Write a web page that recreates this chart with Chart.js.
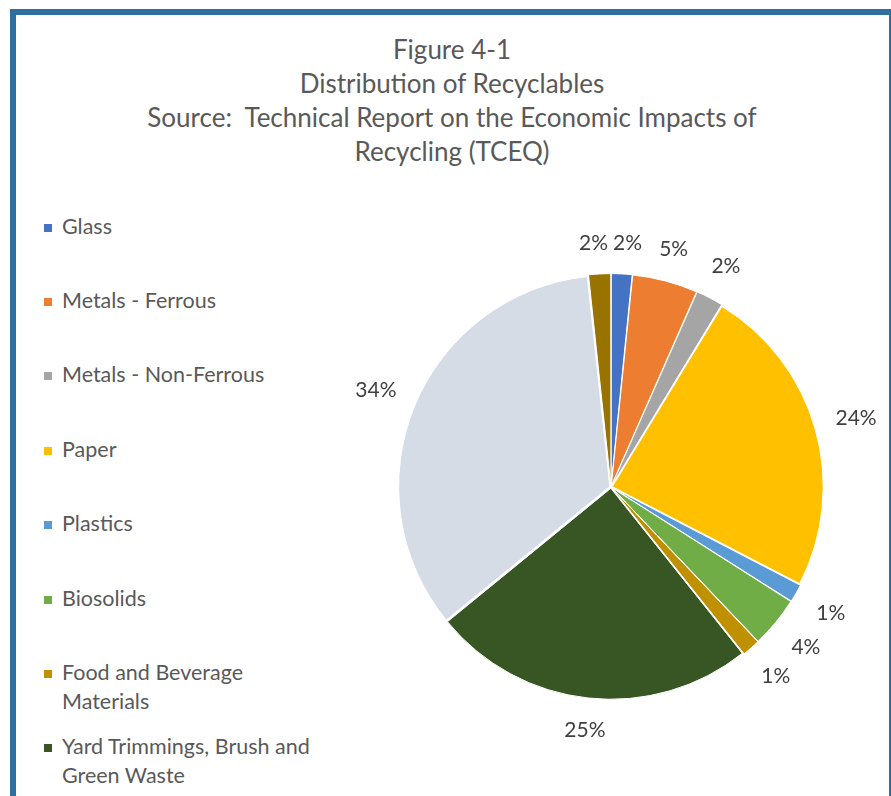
<!DOCTYPE html>
<html>
<head>
<meta charset="utf-8">
<script src="https://cdn.jsdelivr.net/npm/chart.js@4.4.1/dist/chart.umd.min.js"></script>
<style>
  html, body { margin: 0; padding: 0; background: #fff; overflow: hidden; }
  body { width: 891px; height: 796px; position: relative; font-family: Lato, "Open Sans", sans-serif; color: #595959; }
  #frame { position: absolute; left: 10px; top: 9px; width: 873px; height: 820px;
           border-left: 6px solid #2E6EA0; border-top: 6px solid #2E6EA0; border-right: 3px solid #2E6EA0; }
  #title { position: absolute; left: 0; top: 32px; width: 904px; text-align: center;
           font-size: 26px; line-height: 34px; }
  #legend { position: absolute; left: 43px; top: 212px; margin: 0; padding: 0; list-style: none; font-size: 21.5px; }
  #legend li { position: relative; padding-left: 19px; line-height: 29px; width: 262px; }
  #legend li span { position: absolute; left: 1px; top: 12px; width: 8px; height: 8px; }
  canvas { position: absolute; left: 0; top: 0; }
</style>
</head>
<body>
<div id="frame"></div>
<div id="title">Figure 4-1<br>Distribution of Recyclables<br>Source:&nbsp; Technical Report on the Economic Impacts of<br>Recycling (TCEQ)</div>
<ul id="legend"></ul>
<canvas id="chart" width="891" height="796"></canvas>
<script>
const categories = [
  'Glass',
  'Metals - Ferrous',
  'Metals - Non-Ferrous',
  'Paper',
  'Plastics',
  'Biosolids',
  'Food and Beverage Materials',
  'Yard Trimmings, Brush and Green Waste',
  'Construction and Demolition Debris',
  'Other'
];
const shares = [1.6, 5.0, 2.1, 23.9, 1.4, 3.9, 1.4, 24.8, 34.2, 1.7];
const colors = ['#4472C4', '#ED7D31', '#A5A5A5', '#FFC000', '#5B9BD5', '#70AD47',
                '#BF9000', '#375623', '#D6DCE5', '#997300'];

// legend as html, spacing like the original
const legendGaps = [0, 45, 45, 46, 45, 46, 45, 16, 16, 45];
const legendEl = document.getElementById('legend');
categories.forEach((name, i) => {
  const li = document.createElement('li');
  li.style.marginTop = legendGaps[i] + 'px';
  const sw = document.createElement('span');
  sw.style.background = colors[i];
  li.appendChild(sw);
  li.appendChild(document.createTextNode(name));
  legendEl.appendChild(li);
});

// percent labels outside each slice, nudged apart when they collide
const outsideLabels = {
  id: 'outsideLabels',
  afterDatasetsDraw(chart) {
    const ctx = chart.ctx;
    const meta = chart.getDatasetMeta(0);
    const total = shares.reduce((a, b) => a + b, 0);
    ctx.save();
    ctx.font = '21px Lato, "Open Sans", sans-serif';
    ctx.fillStyle = '#404040';
    ctx.textAlign = 'center';
    ctx.textBaseline = 'middle';
    const labels = meta.data.map((arc, i) => {
      const p = arc.getProps(['x', 'y', 'startAngle', 'endAngle', 'outerRadius']);
      const mid = (p.startAngle + p.endAngle) / 2;
      const r = p.outerRadius + 32 + 12 * Math.abs(Math.cos(mid));
      const text = Math.round(shares[i] / total * 100) + '%';
      return { text, x: p.x + Math.cos(mid) * r, y: p.y + Math.sin(mid) * r, w: ctx.measureText(text).width };
    });
    for (let i = 0; i < labels.length; i++) {
      for (let j = i + 1; j < labels.length; j++) {
        const a = labels[i], b = labels[j];
        const need = (a.w + b.w) / 2 + 5;
        if (Math.abs(a.y - b.y) < 20 && Math.abs(a.x - b.x) < need) {
          const push = (need - Math.abs(a.x - b.x)) / 2;
          if (a.x < b.x) { a.x -= push; b.x += push; } else { a.x += push; b.x -= push; }
        }
      }
    }
    labels.forEach(l => ctx.fillText(l.text, l.x, l.y));
    ctx.restore();
  }
};

new Chart(document.getElementById('chart').getContext('2d'), {
  type: 'pie',
  data: {
    labels: categories,
    datasets: [{
      data: shares,
      backgroundColor: colors,
      borderColor: '#ffffff',
      borderWidth: 1,
      offset: 5
    }]
  },
  options: {
    responsive: false,
    animation: false,
    radius: 211,
    layout: { padding: { left: 381, right: 50, top: 258, bottom: 80 } },
    plugins: {
      legend: { display: false },
      title: { display: false },
      tooltip: { enabled: false }
    }
  },
  plugins: [outsideLabels]
});
</script>
</body>
</html>
